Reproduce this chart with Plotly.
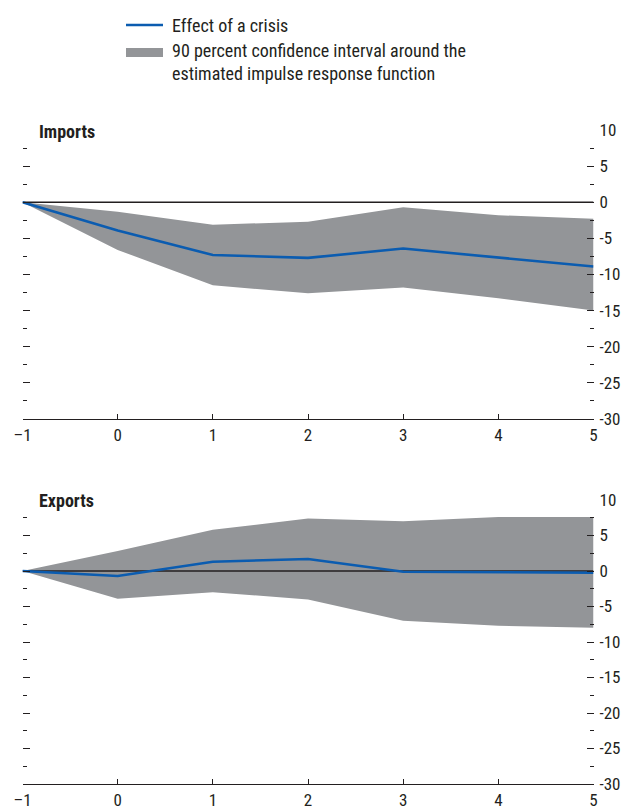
import plotly.graph_objects as go

# Years relative to the crisis
horizons = [-1, 0, 1, 2, 3, 4, 5]
horizon_labels = ["\u20131", "0", "1", "2", "3", "4", "5"]

# Imports: point estimate and 90 percent band
imports_effect = [0, -3.9, -7.3, -7.7, -6.4, -7.7, -8.9]
imports_upper = [0, -1.3, -3.1, -2.7, -0.7, -1.8, -2.3]
imports_lower = [0, -6.6, -11.5, -12.6, -11.8, -13.3, -15.0]

# Exports: point estimate and 90 percent band
exports_effect = [0, -0.7, 1.3, 1.7, -0.1, -0.15, -0.25]
exports_upper = [0, 2.8, 5.8, 7.4, 7.0, 7.6, 7.6]
exports_lower = [0, -3.9, -3.0, -4.0, -7.0, -7.7, -8.0]

y_ticks = [-30, -25, -20, -15, -10, -5, 0, 5, 10]
y_tick_text = ["-30", "-25", "-20", "-15", "-10", "-5", "0", "5", "10"]

BLUE = "#0b5cb0"
GREY = "#939598"
INK = "#231f20"
FONT = "Liberation Sans Narrow, Roboto Condensed, DejaVu Sans Condensed, Arial Narrow, sans-serif"

W, H = 630, 810


def px_x(p):
    return p / W


def px_y(p):
    return 1 - p / H


fig = go.Figure()

panels = [
    ("Imports", imports_effect, imports_upper, imports_lower, "x", "y", 130),
    ("Exports", exports_effect, exports_upper, exports_lower, "x2", "y2", 500),
]

for title, eff, up, lo, xa, ya, top_px in panels:
    fig.add_trace(go.Scatter(
        x=horizons + horizons[::-1], y=up + lo[::-1],
        fill="toself", fillcolor=GREY, line=dict(width=0),
        mode="lines", hoverinfo="skip", showlegend=False,
        xaxis=xa, yaxis=ya,
    ))
    fig.add_trace(go.Scatter(
        x=[horizons[0], horizons[-1]], y=[0, 0], mode="lines",
        line=dict(color=INK, width=1.5), showlegend=False,
        xaxis=xa, yaxis=ya,
    ))
    fig.add_trace(go.Scatter(
        x=horizons, y=eff, mode="lines",
        line=dict(color=BLUE, width=2.6), showlegend=False,
        xaxis=xa, yaxis=ya,
    ))
    fig.add_annotation(
        x=px_x(37), y=px_y(top_px + 1), xref="paper", yref="paper",
        text="<b>" + title + "</b>", showarrow=False,
        xanchor="left", yanchor="middle",
        font=dict(family=FONT, size=18, color=INK),
    )

x_dom = [px_x(22.5), px_x(593.5)]
xaxis_common = dict(
    range=[-1, 5], domain=x_dom, tickmode="array",
    tickvals=horizons, ticktext=horizon_labels,
    ticks="inside", ticklen=5, tickcolor=INK, tickwidth=1,
    showline=True, linecolor=INK, linewidth=1.2,
    showgrid=False, zeroline=False, automargin=False,
    tickfont=dict(family=FONT, size=17, color=INK),
)
yaxis_common = dict(
    range=[-30, 10], side="right", tickmode="array",
    tickvals=y_ticks, ticktext=y_tick_text,
    ticks="inside", ticklen=7, tickcolor=INK, tickwidth=1,
    mirror="ticks", showline=False, showgrid=False, zeroline=False,
    automargin=False, ticklabelstandoff=5,
    minor=dict(tickmode="linear", tick0=-30, dtick=2.5, ticks="inside",
               ticklen=4, tickcolor=INK, tickwidth=1, showgrid=False),
    tickfont=dict(family=FONT, size=17, color=INK),
)

fig.update_layout(
    xaxis=dict(anchor="y", **xaxis_common),
    yaxis=dict(anchor="x", domain=[px_y(419), px_y(130)], **yaxis_common),
    xaxis2=dict(anchor="y2", **xaxis_common),
    yaxis2=dict(anchor="x2", domain=[px_y(784), px_y(500)], **yaxis_common),
)

# Legend drawn as shapes and text
fig.add_shape(type="line", xref="paper", yref="paper",
              x0=px_x(126), x1=px_x(163), y0=px_y(25), y1=px_y(25),
              line=dict(color=BLUE, width=2.6))
fig.add_shape(type="rect", xref="paper", yref="paper",
              x0=px_x(126), x1=px_x(163), y0=px_y(48), y1=px_y(57),
              fillcolor=GREY, line=dict(width=0))
fig.add_annotation(x=px_x(170), y=px_y(25), xref="paper", yref="paper",
                   text="Effect of a crisis", showarrow=False,
                   xanchor="left", yanchor="middle",
                   font=dict(family=FONT, size=18, color=INK))
fig.add_annotation(x=px_x(170), y=px_y(62), xref="paper", yref="paper",
                   text="90 percent confidence interval around the<br>estimated impulse response function",
                   showarrow=False, xanchor="left", yanchor="middle", align="left",
                   font=dict(family=FONT, size=18, color=INK))

fig.update_layout(
    width=W, height=H, margin=dict(l=0, r=0, t=0, b=0),
    paper_bgcolor="white", plot_bgcolor="white", showlegend=False,
)

fig.write_html("out.html")
